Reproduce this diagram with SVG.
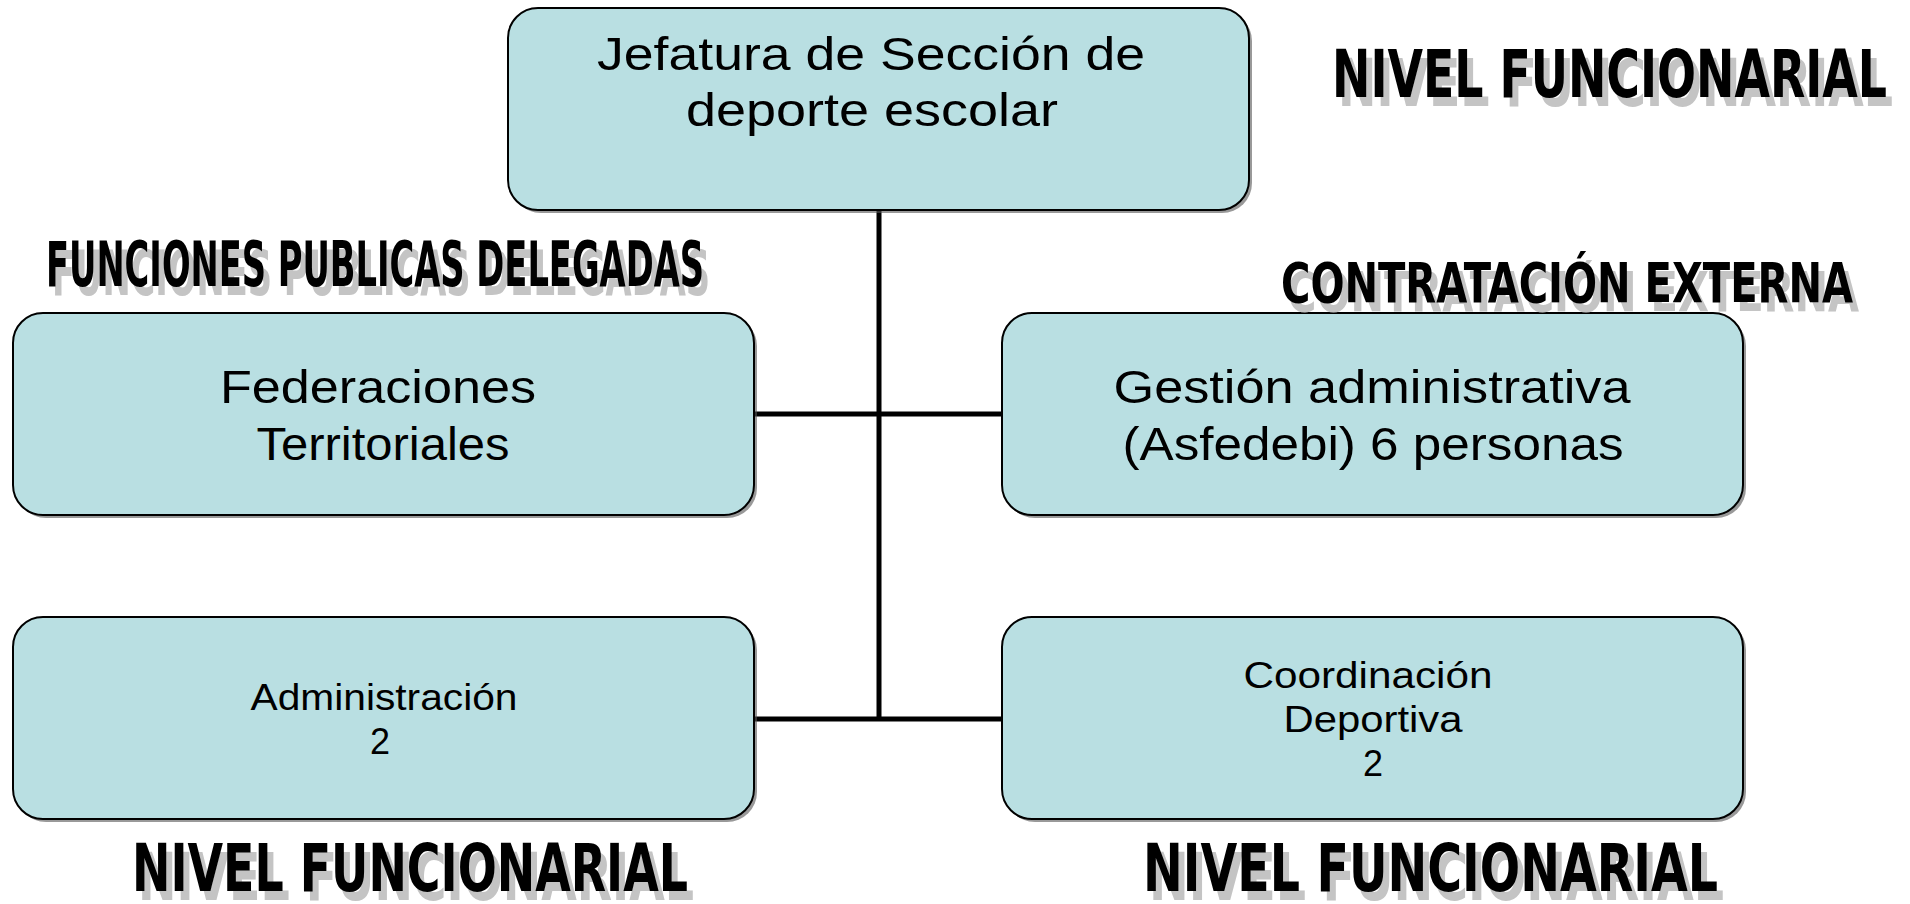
<svg xmlns="http://www.w3.org/2000/svg" width="1910" height="904" viewBox="0 0 1910 904">
<style>
.box{fill:#b9dfe2;stroke:#000;stroke-width:2}
.shd{fill:#555;opacity:0.6}
.t{font-family:"Liberation Sans",Arial,sans-serif;fill:#000;text-anchor:middle}
.big{font-size:47px}
.sm{font-size:36px}
.wa{font-family:"Liberation Sans Narrow","DejaVu Sans Condensed","Liberation Sans",sans-serif;font-weight:bold}
.wb{fill:#000}
.wg{fill:#c4c4c4}
.con{stroke:#000;stroke-width:5;fill:none}
</style>
<rect width="1910" height="904" fill="#fff"/>
<g id="connectors">
<line class="con" x1="879" y1="211" x2="879" y2="721"/>
<line class="con" x1="755" y1="414" x2="1003" y2="414"/>
<line class="con" x1="755" y1="719" x2="1003" y2="719"/>
</g>
<g id="n-jefatura">
<rect class="shd" x="511" y="11" width="741" height="202" rx="30"/>
<rect class="box" x="508" y="8" width="741" height="202" rx="30"/>
<text class="t big" x="871" y="70" textLength="548" lengthAdjust="spacingAndGlyphs">Jefatura de Sección de</text>
<text class="t big" x="872" y="126" textLength="372" lengthAdjust="spacingAndGlyphs">deporte escolar</text>
</g>
<g id="n-federaciones">
<rect class="shd" x="16" y="316" width="741" height="202" rx="30"/>
<rect class="box" x="13" y="313" width="741" height="202" rx="30"/>
<text class="t big" x="378" y="403" textLength="316" lengthAdjust="spacingAndGlyphs">Federaciones</text>
<text class="t big" x="383" y="460" textLength="253" lengthAdjust="spacingAndGlyphs">Territoriales</text>
</g>
<g id="n-gestion">
<rect class="shd" x="1005" y="316" width="741" height="202" rx="30"/>
<rect class="box" x="1002" y="313" width="741" height="202" rx="30"/>
<text class="t big" x="1372" y="403" textLength="517" lengthAdjust="spacingAndGlyphs">Gestión administrativa</text>
<text class="t big" x="1373" y="460" textLength="501" lengthAdjust="spacingAndGlyphs">(Asfedebi) 6 personas</text>
</g>
<g id="n-administracion">
<rect class="shd" x="16" y="620" width="741" height="202" rx="30"/>
<rect class="box" x="13" y="617" width="741" height="202" rx="30"/>
<text class="t sm" x="384" y="710" textLength="267" lengthAdjust="spacingAndGlyphs">Administración</text>
<text class="t sm" x="380" y="754">2</text>
</g>
<g id="n-coordinacion">
<rect class="shd" x="1005" y="620" width="741" height="202" rx="30"/>
<rect class="box" x="1002" y="617" width="741" height="202" rx="30"/>
<text class="t sm" x="1368" y="688" textLength="249" lengthAdjust="spacingAndGlyphs">Coordinación</text>
<text class="t sm" x="1373" y="732" textLength="179" lengthAdjust="spacingAndGlyphs">Deportiva</text>
<text class="t sm" x="1373" y="776">2</text>
</g>
<g id="label-nivel-top">
<text class="wa wg" x="1338" y="106" font-size="66" textLength="555" lengthAdjust="spacingAndGlyphs">NIVEL FUNCIONARIAL</text>
<text class="wa wb" x="1332" y="97" font-size="66" textLength="555" lengthAdjust="spacingAndGlyphs">NIVEL FUNCIONARIAL</text>
</g>
<g id="label-funciones">
<text class="wa wg" x="52" y="295" font-size="62" textLength="658" lengthAdjust="spacingAndGlyphs">FUNCIONES PUBLICAS DELEGADAS</text>
<text class="wa wb" x="46" y="286" font-size="62" textLength="658" lengthAdjust="spacingAndGlyphs">FUNCIONES PUBLICAS DELEGADAS</text>
</g>
<g id="label-contratacion">
<text class="wa wg" x="1287" y="311" font-size="56" textLength="572" lengthAdjust="spacingAndGlyphs">CONTRATACIÓN EXTERNA</text>
<text class="wa wb" x="1281" y="302" font-size="56" textLength="572" lengthAdjust="spacingAndGlyphs">CONTRATACIÓN EXTERNA</text>
</g>
<g id="label-nivel-bl">
<text class="wa wg" x="138" y="900" font-size="66" textLength="556" lengthAdjust="spacingAndGlyphs">NIVEL FUNCIONARIAL</text>
<text class="wa wb" x="132" y="891" font-size="66" textLength="556" lengthAdjust="spacingAndGlyphs">NIVEL FUNCIONARIAL</text>
</g>
<g id="label-nivel-br">
<text class="wa wg" x="1149" y="900" font-size="66" textLength="575" lengthAdjust="spacingAndGlyphs">NIVEL FUNCIONARIAL</text>
<text class="wa wb" x="1143" y="891" font-size="66" textLength="575" lengthAdjust="spacingAndGlyphs">NIVEL FUNCIONARIAL</text>
</g>
</svg>
